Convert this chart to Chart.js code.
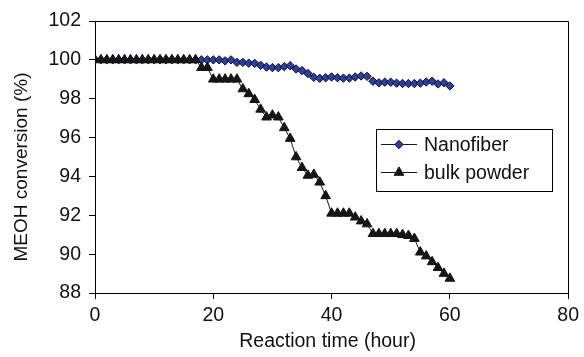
<!DOCTYPE html>
<html>
<head>
<meta charset="utf-8">
<script src="https://cdn.jsdelivr.net/npm/chart.js@4.4.0/dist/chart.umd.min.js"></script>
<style>
  html, body { margin: 0; padding: 0; background: #fff; }
  #wrap { width: 584px; height: 357px; }
</style>
</head>
<body>
<div id="wrap"><canvas id="chart" width="584" height="357"></canvas></div>
<script>
// Reaction time (hour), one reading per hour
const hours = [
  0, 1, 2, 3, 4, 5, 6, 7, 8, 9, 10, 11, 12, 13, 14, 15, 16, 17, 18, 19, 20,
  21, 22, 23, 24, 25, 26, 27, 28, 29, 30, 31, 32, 33, 34, 35, 36, 37, 38, 39, 40,
  41, 42, 43, 44, 45, 46, 47, 48, 49, 50, 51, 52, 53, 54, 55, 56, 57, 58, 59, 60
];

// MEOH conversion (%) - nanofiber catalyst
const nanofiber = [
  100, 100, 100, 100, 100, 100, 100, 100, 100, 100, 100,
  100, 100, 100, 100, 100, 100, 100, 100, 100, 100,
  100, 99.95, 100, 99.87, 99.87, 99.83, 99.82, 99.72, 99.63, 99.6,
  99.6, 99.65, 99.7, 99.53, 99.45, 99.3, 99.1, 99.05, 99.08, 99.12,
  99.08, 99.06, 99.06, 99.12, 99.17, 99.15, 98.9, 98.82, 98.85, 98.85,
  98.8, 98.78, 98.78, 98.78, 98.8, 98.86, 98.9, 98.76, 98.82, 98.66
];

// MEOH conversion (%) - bulk powder catalyst
const bulkPowder = [
  100, 100, 100, 100, 100, 100, 100, 100, 100, 100, 100,
  100, 100, 100, 100, 100, 100, 100, 99.6, 99.6, 99.0,
  99.0, 99.0, 99.0, 99.0, 98.5, 98.25, 97.95, 97.45, 97.05, 97.15,
  97.05, 96.5, 95.95, 95.0, 94.45, 94.05, 94.1, 93.7, 93.0, 92.1,
  92.1, 92.1, 92.1, 91.9, 91.7, 91.55, 91.05, 91.05, 91.05, 91.05,
  91.05, 91.0, 90.95, 90.8, 90.1, 89.9, 89.6, 89.3, 89.0, 88.75
];

const xTitle = 'Reaction time (hour)';
const yTitle = 'MEOH conversion (%)';
const FONT = '"Liberation Sans", Arial, sans-serif';

// Pair the x values with a series
function toPoints(values) {
    return hours.map((h, i) => ({ x: h, y: values[i] }));
}

// Frame, axis titles and the boxed legend inside the plot
const decorPlugin = {
    id: 'decor',
    afterDraw(chart) {
        const ctx = chart.ctx;
        const area = chart.chartArea;
        ctx.save();

        // top and right edges of the plot box
        ctx.strokeStyle = '#000';
        ctx.lineWidth = 1;
        ctx.beginPath();
        ctx.moveTo(Math.round(area.left) + 0.5, Math.round(area.top) + 0.5);
        ctx.lineTo(Math.round(area.right) + 0.5, Math.round(area.top) + 0.5);
        ctx.lineTo(Math.round(area.right) + 0.5, Math.round(area.bottom) + 0.5);
        ctx.stroke();

        // axis titles
        ctx.fillStyle = '#111';
        ctx.font = '19.5px ' + FONT;
        ctx.textAlign = 'center';
        ctx.textBaseline = 'middle';
        ctx.fillText(xTitle, (area.left + area.right) / 2 - 4, 342);

        ctx.save();
        ctx.translate(22, (area.top + area.bottom) / 2 + 10);
        ctx.rotate(-Math.PI / 2);
        ctx.font = '19px ' + FONT;
        ctx.fillText(yTitle, 0, 0);
        ctx.restore();

        // legend box
        const box = { x: 376.5, y: 129.5, w: 176, h: 62 };
        ctx.strokeStyle = '#000';
        ctx.strokeRect(box.x, box.y, box.w, box.h);

        const rows = [144.5, 172.5];
        chart.data.datasets.forEach((ds, i) => {
            const y = rows[i];
            ctx.strokeStyle = ds.borderColor;
            ctx.lineWidth = ds.borderWidth;
            ctx.beginPath();
            ctx.moveTo(381, y);
            ctx.lineTo(417, y);
            ctx.stroke();

            ctx.fillStyle = ds.pointBackgroundColor;
            ctx.strokeStyle = ds.pointBorderColor;
            Chart.helpers.drawPoint(ctx, {
                pointStyle: ds.pointStyle,
                radius: ds.pointRadius,
                borderWidth: ds.pointBorderWidth,
                rotation: 0
            }, 399, y);

            ctx.fillStyle = '#111';
            ctx.font = '19.5px ' + FONT;
            ctx.textAlign = 'left';
            ctx.textBaseline = 'middle';
            ctx.fillText(ds.label, 424, y + 1);
        });

        ctx.restore();
    }
};

const axisGrid = {
    display: true,
    drawOnChartArea: false,
    drawTicks: true,
    tickLength: 6,
    color: '#000'
};

new Chart(document.getElementById('chart'), {
    type: 'line',
    data: {
        datasets: [
            {
                label: 'Nanofiber',
                data: toPoints(nanofiber),
                borderColor: '#1a1a1a',
                borderWidth: 1,
                pointStyle: 'rectRot',
                pointRadius: 4.2,
                pointBackgroundColor: '#2b3f9e',
                pointBorderColor: '#101020',
                pointBorderWidth: 1,
                tension: 0,
                order: 1
            },
            {
                label: 'bulk powder',
                data: toPoints(bulkPowder),
                borderColor: '#1a1a1a',
                borderWidth: 1,
                pointStyle: 'triangle',
                pointRadius: 5.6,
                pointBackgroundColor: '#151515',
                pointBorderColor: '#151515',
                pointBorderWidth: 1,
                tension: 0,
                order: 0
            }
        ]
    },
    options: {
        responsive: false,
        animation: false,
        layout: {
            padding: { top: 21, right: 13, bottom: 0, left: 0 }
        },
        plugins: {
            legend: { display: false },
            tooltip: { enabled: false }
        },
        scales: {
            x: {
                type: 'linear',
                min: 0,
                max: 80,
                grid: axisGrid,
                border: { display: true, color: '#000', width: 1 },
                ticks: {
                    stepSize: 20,
                    padding: 5,
                    color: '#111',
                    font: { family: FONT, size: 19.5 }
                },
                afterFit(scale) { scale.height = 64; }
            },
            y: {
                min: 88,
                max: 102,
                grid: axisGrid,
                border: { display: true, color: '#000', width: 1 },
                ticks: {
                    stepSize: 2,
                    padding: 8,
                    color: '#111',
                    font: { family: FONT, size: 19.5 }
                },
                afterFit(scale) { scale.width = 95; }
            }
        }
    },
    plugins: [decorPlugin]
});
</script>
</body>
</html>
